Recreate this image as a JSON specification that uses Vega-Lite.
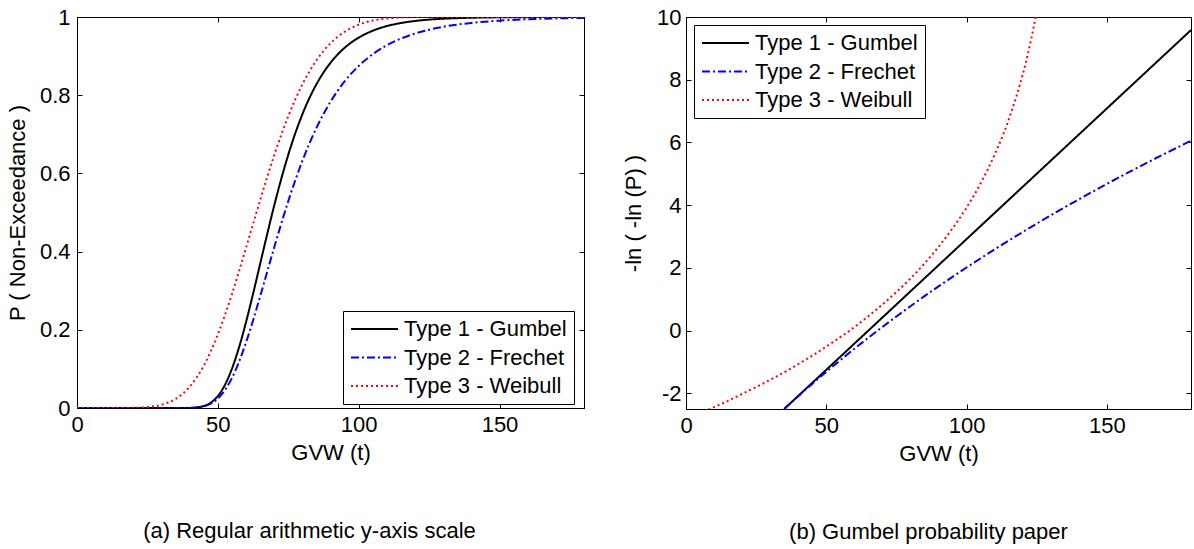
{
  "$schema": "https://vega.github.io/schema/vega-lite/v6.json",
  "background": "white",
  "padding": {"left": 5, "top": -6, "right": 0, "bottom": 0},
  "bounds": "flush",
  "spacing": 102,
  "resolve": {"scale": {"color": "independent", "strokeDash": "independent"}, "legend": {"color": "independent", "strokeDash": "independent"}},
  "config": {
    "font": "Liberation Sans",
    "view": {"stroke": "black", "strokeWidth": 1},
    "axis": {
      "labelFont": "Liberation Sans", "labelFontSize": 22, "labelColor": "black",
      "titleFont": "Liberation Sans", "titleFontSize": 22, "titleColor": "black", "titleFontWeight": "normal",
      "domainColor": "black", "tickColor": "black", "grid": false, "tickSize": -5, "labelFlush": false, "labelOverlap": false,
      "minExtent": 0
    },
    "legend": {
      "symbolType": "stroke", "symbolSize": 2209, "symbolStrokeWidth": 2, "clipHeight": 22, "rowPadding": 6.5,
      "labelFont": "Liberation Sans", "labelFontSize": 22, "labelColor": "black", "labelOffset": 5, "labelLimit": 400,
      "strokeColor": "black", "fillColor": "white", "padding": 7
    },
    "title": {"font": "Liberation Sans", "fontSize": 22, "fontWeight": "normal", "color": "black"}
  },
  "datasets": {
    "cdf": [
      {"x": 0, "type": "Type 1 - Gumbel", "p": 0}, {"x": 20, "type": "Type 1 - Gumbel", "p": 0}, {"x": 35, "type": "Type 1 - Gumbel", "p": 0.00001},
      {"x": 40, "type": "Type 1 - Gumbel", "p": 0.0003}, {"x": 42.5, "type": "Type 1 - Gumbel", "p": 0.0015}, {"x": 45, "type": "Type 1 - Gumbel", "p": 0.005},
      {"x": 47.5, "type": "Type 1 - Gumbel", "p": 0.0136}, {"x": 50, "type": "Type 1 - Gumbel", "p": 0.0305}, {"x": 52.5, "type": "Type 1 - Gumbel", "p": 0.0588},
      {"x": 55, "type": "Type 1 - Gumbel", "p": 0.1003}, {"x": 57.5, "type": "Type 1 - Gumbel", "p": 0.1544}, {"x": 60, "type": "Type 1 - Gumbel", "p": 0.2194},
      {"x": 62.5, "type": "Type 1 - Gumbel", "p": 0.2918}, {"x": 65, "type": "Type 1 - Gumbel", "p": 0.3679}, {"x": 67.5, "type": "Type 1 - Gumbel", "p": 0.444},
      {"x": 70, "type": "Type 1 - Gumbel", "p": 0.5173}, {"x": 72.5, "type": "Type 1 - Gumbel", "p": 0.5855}, {"x": 75, "type": "Type 1 - Gumbel", "p": 0.6475},
      {"x": 77.5, "type": "Type 1 - Gumbel", "p": 0.7027}, {"x": 80, "type": "Type 1 - Gumbel", "p": 0.7509}, {"x": 82.5, "type": "Type 1 - Gumbel", "p": 0.7925},
      {"x": 85, "type": "Type 1 - Gumbel", "p": 0.8279}, {"x": 87.5, "type": "Type 1 - Gumbel", "p": 0.8578}, {"x": 90, "type": "Type 1 - Gumbel", "p": 0.8829},
      {"x": 92.5, "type": "Type 1 - Gumbel", "p": 0.9038}, {"x": 95, "type": "Type 1 - Gumbel", "p": 0.9212}, {"x": 97.5, "type": "Type 1 - Gumbel", "p": 0.9355},
      {"x": 100, "type": "Type 1 - Gumbel", "p": 0.9473}, {"x": 105, "type": "Type 1 - Gumbel", "p": 0.9649}, {"x": 110, "type": "Type 1 - Gumbel", "p": 0.9768},
      {"x": 115, "type": "Type 1 - Gumbel", "p": 0.9846}, {"x": 120, "type": "Type 1 - Gumbel", "p": 0.9898}, {"x": 125, "type": "Type 1 - Gumbel", "p": 0.9933},
      {"x": 130, "type": "Type 1 - Gumbel", "p": 0.9956}, {"x": 135, "type": "Type 1 - Gumbel", "p": 0.9971}, {"x": 140, "type": "Type 1 - Gumbel", "p": 0.9981},
      {"x": 150, "type": "Type 1 - Gumbel", "p": 0.9992}, {"x": 160, "type": "Type 1 - Gumbel", "p": 0.9996}, {"x": 170, "type": "Type 1 - Gumbel", "p": 0.9998},
      {"x": 180, "type": "Type 1 - Gumbel", "p": 0.9999},

      {"x": 0, "type": "Type 2 - Frechet", "p": 0}, {"x": 20, "type": "Type 2 - Frechet", "p": 0}, {"x": 35, "type": "Type 2 - Frechet", "p": 0.00001},
      {"x": 40, "type": "Type 2 - Frechet", "p": 0.0003}, {"x": 42.5, "type": "Type 2 - Frechet", "p": 0.0013}, {"x": 45, "type": "Type 2 - Frechet", "p": 0.0042},
      {"x": 47.5, "type": "Type 2 - Frechet", "p": 0.0111}, {"x": 50, "type": "Type 2 - Frechet", "p": 0.024}, {"x": 52.5, "type": "Type 2 - Frechet", "p": 0.0455},
      {"x": 55, "type": "Type 2 - Frechet", "p": 0.0766}, {"x": 57.5, "type": "Type 2 - Frechet", "p": 0.1177}, {"x": 60, "type": "Type 2 - Frechet", "p": 0.1675},
      {"x": 62.5, "type": "Type 2 - Frechet", "p": 0.2239}, {"x": 65, "type": "Type 2 - Frechet", "p": 0.2848}, {"x": 67.5, "type": "Type 2 - Frechet", "p": 0.3477},
      {"x": 70, "type": "Type 2 - Frechet", "p": 0.4104}, {"x": 72.5, "type": "Type 2 - Frechet", "p": 0.4712}, {"x": 75, "type": "Type 2 - Frechet", "p": 0.5289},
      {"x": 77.5, "type": "Type 2 - Frechet", "p": 0.5826}, {"x": 80, "type": "Type 2 - Frechet", "p": 0.6318}, {"x": 82.5, "type": "Type 2 - Frechet", "p": 0.6763},
      {"x": 85, "type": "Type 2 - Frechet", "p": 0.7163}, {"x": 87.5, "type": "Type 2 - Frechet", "p": 0.7518}, {"x": 90, "type": "Type 2 - Frechet", "p": 0.7833},
      {"x": 92.5, "type": "Type 2 - Frechet", "p": 0.8109}, {"x": 95, "type": "Type 2 - Frechet", "p": 0.8351}, {"x": 97.5, "type": "Type 2 - Frechet", "p": 0.8563},
      {"x": 100, "type": "Type 2 - Frechet", "p": 0.8748}, {"x": 105, "type": "Type 2 - Frechet", "p": 0.9049}, {"x": 110, "type": "Type 2 - Frechet", "p": 0.9276},
      {"x": 115, "type": "Type 2 - Frechet", "p": 0.9448}, {"x": 120, "type": "Type 2 - Frechet", "p": 0.9577}, {"x": 125, "type": "Type 2 - Frechet", "p": 0.9675},
      {"x": 130, "type": "Type 2 - Frechet", "p": 0.9749}, {"x": 135, "type": "Type 2 - Frechet", "p": 0.9806}, {"x": 140, "type": "Type 2 - Frechet", "p": 0.9849},
      {"x": 150, "type": "Type 2 - Frechet", "p": 0.9907}, {"x": 160, "type": "Type 2 - Frechet", "p": 0.9942}, {"x": 170, "type": "Type 2 - Frechet", "p": 0.9963},
      {"x": 180, "type": "Type 2 - Frechet", "p": 0.9977},

      {"x": 0, "type": "Type 3 - Weibull", "p": 0}, {"x": 10, "type": "Type 3 - Weibull", "p": 0.00001}, {"x": 15, "type": "Type 3 - Weibull", "p": 0.0001},
      {"x": 20, "type": "Type 3 - Weibull", "p": 0.0005}, {"x": 25, "type": "Type 3 - Weibull", "p": 0.0023}, {"x": 30, "type": "Type 3 - Weibull", "p": 0.0082},
      {"x": 35, "type": "Type 3 - Weibull", "p": 0.0232}, {"x": 40, "type": "Type 3 - Weibull", "p": 0.0543}, {"x": 42.5, "type": "Type 3 - Weibull", "p": 0.0782},
      {"x": 45, "type": "Type 3 - Weibull", "p": 0.1083}, {"x": 47.5, "type": "Type 3 - Weibull", "p": 0.145}, {"x": 50, "type": "Type 3 - Weibull", "p": 0.1881},
      {"x": 52.5, "type": "Type 3 - Weibull", "p": 0.2372}, {"x": 55, "type": "Type 3 - Weibull", "p": 0.2912}, {"x": 57.5, "type": "Type 3 - Weibull", "p": 0.3491},
      {"x": 60, "type": "Type 3 - Weibull", "p": 0.4093}, {"x": 62.5, "type": "Type 3 - Weibull", "p": 0.4704}, {"x": 65, "type": "Type 3 - Weibull", "p": 0.5311},
      {"x": 67.5, "type": "Type 3 - Weibull", "p": 0.5901}, {"x": 70, "type": "Type 3 - Weibull", "p": 0.6461}, {"x": 72.5, "type": "Type 3 - Weibull", "p": 0.6984},
      {"x": 75, "type": "Type 3 - Weibull", "p": 0.7462}, {"x": 77.5, "type": "Type 3 - Weibull", "p": 0.7893}, {"x": 80, "type": "Type 3 - Weibull", "p": 0.8274},
      {"x": 82.5, "type": "Type 3 - Weibull", "p": 0.8606}, {"x": 85, "type": "Type 3 - Weibull", "p": 0.889}, {"x": 87.5, "type": "Type 3 - Weibull", "p": 0.913},
      {"x": 90, "type": "Type 3 - Weibull", "p": 0.9329}, {"x": 92.5, "type": "Type 3 - Weibull", "p": 0.9491}, {"x": 95, "type": "Type 3 - Weibull", "p": 0.9622},
      {"x": 97.5, "type": "Type 3 - Weibull", "p": 0.9725}, {"x": 100, "type": "Type 3 - Weibull", "p": 0.9804}, {"x": 105, "type": "Type 3 - Weibull", "p": 0.9909},
      {"x": 110, "type": "Type 3 - Weibull", "p": 0.9963}, {"x": 115, "type": "Type 3 - Weibull", "p": 0.9988}, {"x": 120, "type": "Type 3 - Weibull", "p": 0.9997},
      {"x": 125, "type": "Type 3 - Weibull", "p": 1}, {"x": 150, "type": "Type 3 - Weibull", "p": 1}, {"x": 180, "type": "Type 3 - Weibull", "p": 1}
    ],
    "gpp": [
      {"x": 35, "type": "Type 1 - Gumbel", "z": -2.5}, {"x": 65, "type": "Type 1 - Gumbel", "z": 0}, {"x": 100, "type": "Type 1 - Gumbel", "z": 2.917},
      {"x": 140, "type": "Type 1 - Gumbel", "z": 6.25}, {"x": 180, "type": "Type 1 - Gumbel", "z": 9.583},

      {"x": 35, "type": "Type 2 - Frechet", "z": -2.499}, {"x": 40, "type": "Type 2 - Frechet", "z": -2.093}, {"x": 45, "type": "Type 2 - Frechet", "z": -1.699},
      {"x": 50, "type": "Type 2 - Frechet", "z": -1.316}, {"x": 55, "type": "Type 2 - Frechet", "z": -0.944}, {"x": 60, "type": "Type 2 - Frechet", "z": -0.581},
      {"x": 65, "type": "Type 2 - Frechet", "z": -0.228}, {"x": 70, "type": "Type 2 - Frechet", "z": 0.116}, {"x": 75, "type": "Type 2 - Frechet", "z": 0.451},
      {"x": 80, "type": "Type 2 - Frechet", "z": 0.778}, {"x": 85, "type": "Type 2 - Frechet", "z": 1.098}, {"x": 90, "type": "Type 2 - Frechet", "z": 1.409},
      {"x": 95, "type": "Type 2 - Frechet", "z": 1.714}, {"x": 100, "type": "Type 2 - Frechet", "z": 2.012}, {"x": 110, "type": "Type 2 - Frechet", "z": 2.589},
      {"x": 120, "type": "Type 2 - Frechet", "z": 3.142}, {"x": 130, "type": "Type 2 - Frechet", "z": 3.673}, {"x": 140, "type": "Type 2 - Frechet", "z": 4.184},
      {"x": 150, "type": "Type 2 - Frechet", "z": 4.677}, {"x": 160, "type": "Type 2 - Frechet", "z": 5.152}, {"x": 170, "type": "Type 2 - Frechet", "z": 5.611},
      {"x": 180, "type": "Type 2 - Frechet", "z": 6.054},

      {"x": 8, "type": "Type 3 - Weibull", "z": -2.52}, {"x": 10, "type": "Type 3 - Weibull", "z": -2.44}, {"x": 15, "type": "Type 3 - Weibull", "z": -2.24},
      {"x": 20, "type": "Type 3 - Weibull", "z": -2.02}, {"x": 25, "type": "Type 3 - Weibull", "z": -1.8}, {"x": 30, "type": "Type 3 - Weibull", "z": -1.57},
      {"x": 35, "type": "Type 3 - Weibull", "z": -1.33}, {"x": 40, "type": "Type 3 - Weibull", "z": -1.07}, {"x": 45, "type": "Type 3 - Weibull", "z": -0.8},
      {"x": 50, "type": "Type 3 - Weibull", "z": -0.51}, {"x": 55, "type": "Type 3 - Weibull", "z": -0.21}, {"x": 60, "type": "Type 3 - Weibull", "z": 0.11},
      {"x": 65, "type": "Type 3 - Weibull", "z": 0.46}, {"x": 70, "type": "Type 3 - Weibull", "z": 0.83}, {"x": 75, "type": "Type 3 - Weibull", "z": 1.23},
      {"x": 80, "type": "Type 3 - Weibull", "z": 1.66}, {"x": 85, "type": "Type 3 - Weibull", "z": 2.14}, {"x": 90, "type": "Type 3 - Weibull", "z": 2.67},
      {"x": 95, "type": "Type 3 - Weibull", "z": 3.26}, {"x": 100, "type": "Type 3 - Weibull", "z": 3.92}, {"x": 105, "type": "Type 3 - Weibull", "z": 4.69},
      {"x": 110, "type": "Type 3 - Weibull", "z": 5.61}, {"x": 113, "type": "Type 3 - Weibull", "z": 6.24}, {"x": 116, "type": "Type 3 - Weibull", "z": 6.98},
      {"x": 119, "type": "Type 3 - Weibull", "z": 7.84}, {"x": 121, "type": "Type 3 - Weibull", "z": 8.5}, {"x": 123, "type": "Type 3 - Weibull", "z": 9.28},
      {"x": 125, "type": "Type 3 - Weibull", "z": 10.19}, {"x": 126, "type": "Type 3 - Weibull", "z": 10.71}
    ]
  },
  "hconcat": [
    {
      "width": 507,
      "height": 391,
      "data": {"name": "cdf"},
      "title": {"text": "(a) Regular arithmetic y-axis scale", "orient": "bottom", "anchor": "middle", "offset": 58, "dx": -21},
      "layer": [
        {
          "mark": {"type": "line", "clip": true, "strokeWidth": 2, "interpolate": "monotone"},
          "encoding": {
            "x": {"field": "x", "type": "quantitative", "scale": {"domain": [0, 180], "nice": false},
                  "axis": {"orient": "bottom", "values": [0, 50, 100, 150], "title": "GVW (t)", "labelPadding": 11, "titlePadding": 7}},
            "y": {"field": "p", "type": "quantitative", "scale": {"domain": [0, 1], "nice": false},
                  "axis": {"orient": "left", "values": [0, 0.2, 0.4, 0.6, 0.8, 1], "format": "~g", "title": "P ( Non-Exceedance )", "labelPadding": 12, "titlePadding": 10}},
            "color": {"field": "type", "type": "nominal",
                      "scale": {"domain": ["Type 1 - Gumbel", "Type 2 - Frechet", "Type 3 - Weibull"], "range": ["#000000", "#0000ff", "#ff0000"]},
                      "legend": {"orient": "none", "legendX": 266, "legendY": 294, "title": null}},
            "strokeDash": {"field": "type", "type": "nominal",
                      "scale": {"domain": ["Type 1 - Gumbel", "Type 2 - Frechet", "Type 3 - Weibull"], "range": [[1, 0], [8, 3, 2, 3], [2, 3]]},
                      "legend": {"orient": "none", "legendX": 266, "legendY": 294, "title": null}}
          }
        },
        {
          "mark": {"type": "line", "opacity": 0},
          "encoding": {
            "x": {"field": "x", "type": "quantitative", "scale": {"domain": [0, 180], "nice": false},
                  "axis": {"orient": "top", "values": [0, 50, 100, 150], "labels": false, "title": null, "minExtent": 0}},
            "y": {"field": "p", "type": "quantitative", "scale": {"domain": [0, 1], "nice": false},
                  "axis": {"orient": "right", "values": [0, 0.2, 0.4, 0.6, 0.8, 1], "labels": false, "title": null, "minExtent": 0}},
            "detail": {"field": "type"}
          }
        }
      ],
      "resolve": {"axis": {"x": "independent", "y": "independent"}}
    },
    {
      "width": 505,
      "height": 392,
      "data": {"name": "gpp"},
      "title": {"text": "(b) Gumbel probability paper", "orient": "bottom", "anchor": "middle", "offset": 58, "dx": -10},
      "layer": [
        {
          "mark": {"type": "line", "clip": true, "strokeWidth": 2, "interpolate": "monotone"},
          "encoding": {
            "x": {"field": "x", "type": "quantitative", "scale": {"domain": [0, 180], "nice": false},
                  "axis": {"orient": "bottom", "values": [0, 50, 100, 150], "title": "GVW (t)", "labelPadding": 11, "titlePadding": 7}},
            "y": {"field": "z", "type": "quantitative", "scale": {"domain": [-2.5, 10], "nice": false, "zero": false},
                  "axis": {"orient": "left", "values": [-2, 0, 2, 4, 6, 8, 10], "labelExpr": "'' + datum.value", "title": "-ln ( -ln (P) )", "labelPadding": 10, "titlePadding": 11}},
            "color": {"field": "type", "type": "nominal",
                      "scale": {"domain": ["Type 1 - Gumbel", "Type 2 - Frechet", "Type 3 - Weibull"], "range": ["#000000", "#0000ff", "#ff0000"]},
                      "legend": {"orient": "none", "legendX": 8, "legendY": 8, "title": null}},
            "strokeDash": {"field": "type", "type": "nominal",
                      "scale": {"domain": ["Type 1 - Gumbel", "Type 2 - Frechet", "Type 3 - Weibull"], "range": [[1, 0], [8, 3, 2, 3], [2, 3]]},
                      "legend": {"orient": "none", "legendX": 8, "legendY": 8, "title": null}}
          }
        },
        {
          "mark": {"type": "line", "opacity": 0},
          "encoding": {
            "x": {"field": "x", "type": "quantitative", "scale": {"domain": [0, 180], "nice": false},
                  "axis": {"orient": "top", "values": [0, 50, 100, 150], "labels": false, "title": null, "minExtent": 0}},
            "y": {"field": "z", "type": "quantitative", "scale": {"domain": [-2.5, 10], "nice": false, "zero": false},
                  "axis": {"orient": "right", "values": [-2, 0, 2, 4, 6, 8, 10], "labels": false, "title": null, "minExtent": 0}},
            "detail": {"field": "type"}
          }
        }
      ],
      "resolve": {"axis": {"x": "independent", "y": "independent"}}
    }
  ]
}
